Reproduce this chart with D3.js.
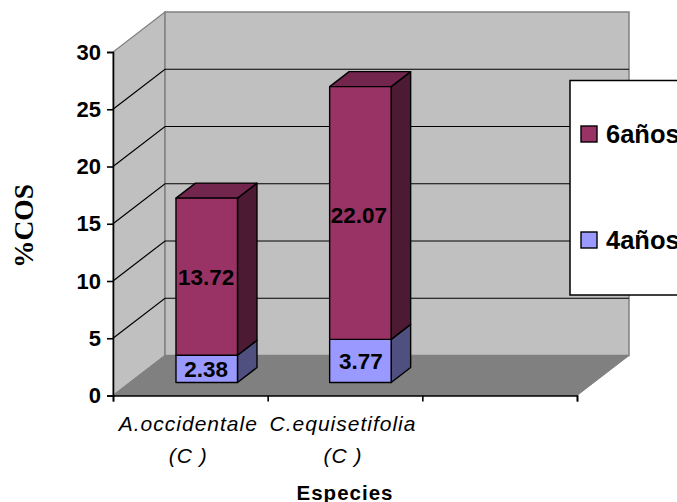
<!DOCTYPE html>
<html>
<head>
<meta charset="utf-8">
<script src="https://cdn.jsdelivr.net/npm/d3@7"></script>
<style>
html,body{margin:0;padding:0;background:#fff;overflow:hidden}
svg{display:block}
text{font-family:"Liberation Sans",Arial,sans-serif;fill:#000}
</style>
</head>
<body>
<svg id="chart" width="677" height="502"></svg>
<script>
// data
var categories = ["A.occidentale", "C.equisetifolia", ""];
var categorySub = ["(C )", "(C )", ""];
var seriesNames = ["4años", "6años"];
var seriesColors = ["#9999ff", "#993366"];
var sideColors = ["#4f4f80", "#4d1a33"];
var topColors = ["#7777cc", "#73264d"];
var values4 = [2.38, 3.77];
var values6 = [13.72, 22.07];
var yTicks = [0, 5, 10, 15, 20, 25, 30];

var svg = d3.select("#chart");

// front plane of the 3d box
var y = d3.scaleLinear().domain([0, 30]).range([395.5, 52]);
var x = d3.scaleBand().domain(categories).range([113, 577]).padding(0);
var tickX = d3.scaleLinear().domain([0, 3]).range([113, 577]);
// depth goes from the front plane (0) to the back wall (1)
var depthX = d3.scaleLinear().domain([0, 1]).range([0, 52]);
var depthY = d3.scaleLinear().domain([0, 1]).range([0, -40]);

var barWidth = 61.5, barD0 = 0.325, barD1 = 0.7;

function pt(px, v, d) {
    return [px + depthX(d), y(v) + depthY(d)];
}
function poly(points) {
    return "M" + points.map(function (p) { return p.join(","); }).join("L") + "Z";
}

var x0 = x.range()[0], x1 = x.range()[1];

// walls and floor
svg.append("path")
    .attr("d", poly([pt(x0, 0, 0), pt(x0, 30, 0), pt(x0, 30, 1), pt(x0, 0, 1)]))
    .attr("fill", "#c0c0c0").attr("stroke", "#808080").attr("stroke-width", 1.2);
svg.append("path")
    .attr("d", poly([pt(x0, 0, 1), pt(x0, 30, 1), pt(x1, 30, 1), pt(x1, 0, 1)]))
    .attr("fill", "#c0c0c0").attr("stroke", "#808080").attr("stroke-width", 1.5);
svg.append("path")
    .attr("d", poly([pt(x0, 0, 0), pt(x0, 0, 1), pt(x1, 0, 1), pt(x1, 0, 0)]))
    .attr("fill", "#808080").attr("stroke", "#808080");

// gridlines, wall part then back part
var grid = svg.append("g").attr("fill", "none").attr("stroke", "#000").attr("stroke-width", 1.2);
yTicks.filter(function (t) { return t > 0 && t < 30; }).forEach(function (t) {
    grid.append("path").attr("d", d3.line()([pt(x0, t, 0), pt(x0, t, 1), pt(x1, t, 1)]));
});

// stacked bars
var bars = svg.append("g");
categories.slice(0, 2).forEach(function (c, i) {
    var left = x(c) + (x.bandwidth() - barWidth) / 2 - (i === 0 ? 0.5 : 1.5);
    var right = left + barWidth;
    var stack = [[0, values4[i]], [values4[i], values4[i] + values6[i]]];
    stack.forEach(function (s, k) {
        var g = bars.append("g").attr("stroke", "#000").attr("stroke-width", 1.4).attr("stroke-linejoin", "round");
        g.append("path")
            .attr("d", poly([pt(right, s[0], barD0), pt(right, s[1], barD0), pt(right, s[1], barD1), pt(right, s[0], barD1)]))
            .attr("fill", sideColors[k]);
        if (k === 1) {
            g.append("path")
                .attr("d", poly([pt(left, s[1], barD0), pt(left, s[1], barD1), pt(right, s[1], barD1), pt(right, s[1], barD0)]))
                .attr("fill", topColors[k]);
        }
        g.append("path")
            .attr("d", poly([pt(left, s[0], barD0), pt(left, s[1], barD0), pt(right, s[1], barD0), pt(right, s[0], barD0)]))
            .attr("fill", seriesColors[k]);
    });
});

// value labels
var labels = svg.append("g")
    .attr("font-size", 22.5).attr("font-weight", "bold").attr("text-anchor", "middle");
categories.slice(0, 2).forEach(function (c, i) {
    var cx = x(c) + x.bandwidth() / 2;
    var p4 = pt(cx, values4[i] / 2, barD0);
    var p6 = pt(cx, values4[i] + values6[i] / 2, barD0);
    labels.append("text").attr("x", p4[0] - 1).attr("y", p4[1]).attr("dy", "0.36em").text(values4[i].toFixed(2));
    labels.append("text").attr("x", p6[0] - (i === 1 ? 3 : 1)).attr("y", p6[1] + (i === 1 ? 2 : 0)).attr("dy", "0.36em").text(values6[i].toFixed(2));
});

// axes
var yAxis = svg.append("g")
    .attr("transform", "translate(" + x0 + ",0)")
    .call(d3.axisLeft(y).tickValues(yTicks).tickSize(6).tickPadding(6));
yAxis.selectAll("path,line").attr("stroke", "#000").attr("stroke-width", 1.6);
yAxis.selectAll("text").attr("font-size", 22).attr("font-weight", "bold")
    .attr("font-family", "Liberation Sans");

var xAxis = svg.append("g")
    .attr("transform", "translate(0," + y(0) + ")")
    .call(d3.axisBottom(tickX).tickValues([0, 1, 2, 3]).tickSize(6).tickFormat(""));
xAxis.selectAll("path,line").attr("stroke", "#000").attr("stroke-width", 1.6);

// category labels
var catLabels = svg.append("g")
    .attr("font-size", 21).attr("font-style", "italic").attr("text-anchor", "middle")
    .attr("letter-spacing", 1);
categories.slice(0, 2).forEach(function (c, i) {
    var cx = x(c) + x.bandwidth() / 2 - 2;
    catLabels.append("text").attr("x", cx).attr("y", y(0) + 35).text(c);
    catLabels.append("text").attr("x", cx).attr("y", y(0) + 67).text(categorySub[i]);
});

// axis titles
svg.append("text").attr("x", 345).attr("y", 499.5)
    .attr("font-size", 20.5).attr("font-weight", "bold").attr("text-anchor", "middle")
    .attr("letter-spacing", 1).text("Especies");
svg.append("text")
    .attr("transform", "translate(33,226) rotate(-90)")
    .attr("font-size", 27.5).attr("font-weight", "bold").attr("text-anchor", "middle")
    .style("font-family", "'Liberation Serif',serif").text("%COS");

// legend runs off the right edge of the picture
var legend = svg.append("g");
legend.append("rect").attr("x", 570).attr("y", 80.5).attr("width", 120).attr("height", 214.5)
    .attr("fill", "#fff").attr("stroke", "#000").attr("stroke-width", 1.5);
var legendY = d3.scalePoint().domain(["6años", "4años"]).range([134, 240]);
["6años", "4años"].forEach(function (name) {
    var k = seriesNames.indexOf(name);
    legend.append("rect").attr("x", 581).attr("y", legendY(name) - 8).attr("width", 16).attr("height", 16)
        .attr("fill", seriesColors[k]).attr("stroke", "#000").attr("stroke-width", 1.4);
    legend.append("text").attr("x", 606).attr("y", legendY(name)).attr("dy", "0.36em")
        .attr("font-size", 25.5).attr("font-weight", "bold").text(name);
});
</script>
</body>
</html>
